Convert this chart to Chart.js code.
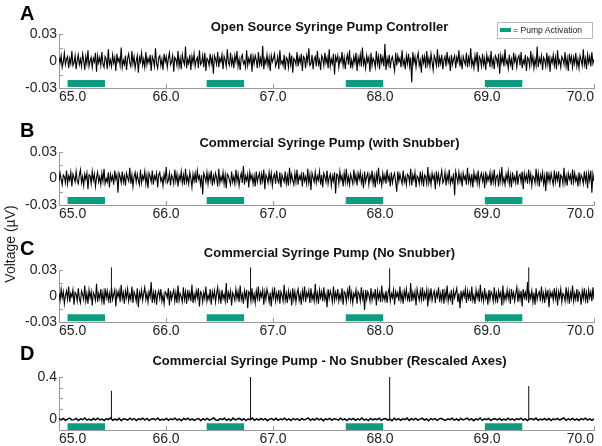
<!DOCTYPE html>
<html lang="en">
<head>
  <meta charset="UTF-8">
  <title>Syringe Pump Noise</title>
  <script src="https://cdn.jsdelivr.net/npm/chart.js"></script>
  <style>
    body {
      margin: 0;
      background: #fff;
      font-family: "Liberation Sans", Arial, sans-serif;
    }
    #page {
      position: relative;
      width: 602px;
      height: 446px;
      overflow: hidden;
    }
    canvas { position: absolute; left: 0; }
    .letter {
      position: absolute;
      left: 20px;
      font-size: 20px;
      line-height: 20px;
      font-weight: bold;
      color: #000;
    }
    .title {
      position: absolute;
      left: 62px;
      width: 535px;
      text-align: center;
      font-size: 13px;
      line-height: 13px;
      font-weight: bold;
      color: #111;
    }
    #ylabel {
      position: absolute;
      left: 10px;
      top: 244px;
      transform: translate(-50%, -50%) rotate(-90deg);
      white-space: nowrap;
      font-size: 14px;
      color: #222;
    }
    #legend {
      position: absolute;
      left: 497px;
      top: 22px;
      width: 94px;
      height: 15px;
      border: 1px solid #bbb;
      font-size: 8.6px;
      line-height: 15px;
      color: #222;
    }
    #legend span {
      display: inline-block;
      width: 11px;
      height: 4px;
      background: #0c9d80;
      margin: 0 2px 0 2px;
      vertical-align: middle;
      position: relative;
      top: -1px;
    }
  </style>
</head>
<body>
<div id="page">
  <canvas id="chartA" width="602" height="112" style="top:0px"></canvas>
  <canvas id="chartB" width="602" height="111" style="top:118px"></canvas>
  <canvas id="chartC" width="602" height="110" style="top:236px"></canvas>
  <canvas id="chartD" width="602" height="111" style="top:343px"></canvas>

  <div class="letter" style="top:2.5px">A</div>
  <div class="letter" style="top:119.5px">B</div>
  <div class="letter" style="top:237.5px">C</div>
  <div class="letter" style="top:342.5px">D</div>

  <div class="title" style="top:20px">Open Source Syringe Pump Controller</div>
  <div class="title" style="top:136px">Commercial Syringe Pump (with Snubber)</div>
  <div class="title" style="top:246px">Commercial Syringe Pump (No Snubber)</div>
  <div class="title" style="top:354px">Commercial Syringe Pump - No Snubber (Rescaled Axes)</div>

  <div id="ylabel">Voltage (µV)</div>
  <div id="legend"><span></span>= Pump Activation</div>
</div>

<script>
  // time window (s)
  const tStart = 65.0;
  const tEnd = 70.0;
  const xTicks = [65, 66, 67, 68, 69, 70];

  // pump activation periods
  const pumpStart = [65.08, 66.38, 67.68, 68.98];
  const pumpEnd   = [65.43, 66.73, 68.03, 69.33];

  // transient spikes of the commercial pump (no snubber)
  const spikeTimes = [65.49, 66.79, 68.09, 69.39];
  const spikeC = [0.033, 0.033, 0.032, 0.033];
  const spikeD = [0.27, 0.40, 0.40, 0.315];

  // recorded voltage (µV), evenly sampled over the window
  const noiseA = [
    0.004,-0.002,0.006,-0.007,-0.001,0.009,-0.004,0.002,0.005,-0.008,0.003,-0.003,0.011,-0.005,-0.002,0.006,-0.009,0.001,0.007,-0.004,
    0.002,-0.006,0.008,0.001,-0.010,0.005,-0.003,0.012,-0.006,0.000,0.004,-0.007,0.003,-0.001,0.009,-0.012,0.006,-0.002,0.004,-0.005,
    0.010,-0.003,-0.007,0.005,0.002,-0.009,0.013,-0.004,0.001,-0.006,0.007,-0.002,0.004,-0.011,0.008,-0.001,0.003,-0.005,0.015,-0.007,
    0.001,-0.004,0.006,-0.010,0.003,0.008,-0.002,-0.006,0.011,-0.003,0.005,-0.008,0.000,0.006,-0.013,0.004,-0.001,0.009,-0.005,0.002,
    -0.007,0.010,-0.004,0.003,-0.002,0.007,-0.011,0.005,0.001,-0.006,0.014,-0.003,-0.008,0.004,0.006,-0.005,0.002,-0.010,0.008,-0.001,
    0.005,-0.007,0.003,0.009,-0.004,-0.001,0.006,-0.012,0.004,0.002,-0.005,0.011,-0.006,0.003,-0.009,0.007,0.000,-0.004,0.016,-0.008,
    0.002,-0.003,0.007,-0.010,0.005,-0.002,0.008,-0.006,0.001,0.004,-0.008,0.012,-0.004,-0.002,0.006,-0.007,0.009,-0.011,0.003,0.001,
    -0.005,0.008,-0.003,0.004,-0.014,0.006,0.002,-0.004,0.010,-0.007,0.003,-0.001,0.007,-0.009,0.005,0.001,-0.006,0.013,-0.002,-0.005,
    0.009,-0.004,0.003,-0.008,0.006,-0.001,0.011,-0.006,0.002,-0.010,0.004,0.007,-0.003,0.000,-0.007,0.012,-0.005,0.003,-0.002,0.008,
    -0.012,0.005,-0.003,0.006,0.001,-0.008,0.010,-0.004,0.003,-0.006,0.017,-0.009,0.002,-0.003,0.007,-0.005,0.004,-0.011,0.006,-0.001,
    0.003,0.008,-0.006,-0.002,0.005,-0.009,0.012,-0.003,0.000,-0.005,0.007,-0.010,0.004,0.002,-0.007,0.009,-0.004,0.006,-0.013,0.003,
    0.001,-0.004,0.010,-0.006,0.004,-0.002,0.008,-0.011,0.005,0.003,-0.008,0.006,-0.001,0.014,-0.005,-0.003,0.007,-0.009,0.002,0.005,
    -0.006,0.011,-0.004,0.001,-0.010,0.006,0.003,-0.005,0.009,-0.002,0.004,-0.008,0.013,-0.006,0.002,-0.003,0.008,-0.015,0.005,0.000,
    0.006,-0.007,0.003,-0.001,0.010,-0.005,0.004,-0.009,0.002,0.007,-0.004,0.012,-0.008,0.001,-0.006,0.005,-0.002,0.009,-0.011,0.004,
    -0.003,0.007,-0.006,0.015,-0.004,0.002,-0.008,0.006,-0.001,0.004,-0.012,0.009,-0.005,0.003,0.000,-0.007,0.011,-0.003,0.005,-0.009,
    0.008,-0.002,0.004,-0.006,0.019,-0.010,0.003,-0.004,0.007,-0.008,0.002,0.005,-0.003,-0.011,0.009,-0.005,0.006,-0.001,0.003,-0.007,
    0.012,-0.004,0.001,-0.009,0.006,-0.003,0.008,-0.006,0.004,-0.024,0.010,-0.002,0.005,-0.007,0.003,0.009,-0.005,0.001,-0.013,0.007,
    -0.002,0.005,-0.008,0.011,-0.004,0.003,-0.006,0.008,-0.001,-0.010,0.006,0.002,-0.005,0.013,-0.007,0.004,-0.003,0.007,-0.009,0.001,
    0.005,-0.006,0.010,-0.002,0.003,-0.011,0.007,-0.004,0.002,0.006,-0.008,0.004,-0.001,0.012,-0.006,0.003,-0.009,0.005,0.000,-0.004,
    0.009,-0.007,0.004,-0.003,0.014,-0.005,0.001,-0.008,0.006,-0.002,0.010,-0.012,0.005,0.002,-0.006,0.008,-0.004,0.003,-0.010,0.007,
    -0.001,0.004,-0.007,0.011,-0.005,0.002,-0.009,0.006,0.003,-0.004,0.008,-0.014,0.006,-0.002,0.005,-0.006,0.013,-0.003,0.001,-0.008,
    0.007,-0.004,0.002,-0.010,0.009,-0.001,0.005,-0.007,0.003,0.006,-0.005,0.010,-0.008,0.001,-0.003,0.007,-0.011,0.004,0.002,-0.006,
    0.011,-0.003,0.005,-0.008,0.002,-0.005,0.016,-0.007,0.003,-0.002,0.006,-0.010,0.004,0.001,-0.006,0.009,-0.004,0.006,-0.012,0.003,
    -0.002,0.007,-0.005,0.004,-0.009,0.012,-0.003,0.001,-0.007,0.005,0.002,-0.004,0.010,-0.006,0.003,-0.011,0.008,-0.001,0.005,-0.007,
    0.004,-0.003,0.009,-0.006,0.002,-0.008,0.006,0.001,-0.005,0.013,-0.004,0.003,-0.009,0.007,-0.002,0.005,-0.006,0.010,-0.003,0.002
  ];

  const noiseB = [
    -0.003,0.006,-0.001,-0.007,0.004,0.002,-0.005,0.009,-0.006,0.003,-0.002,0.007,-0.009,0.005,0.001,-0.004,0.008,-0.003,-0.006,0.004,
    0.010,-0.005,0.002,-0.008,0.005,-0.001,0.006,-0.012,0.004,0.003,-0.006,0.008,-0.002,0.005,-0.009,0.001,0.007,-0.004,0.002,-0.007,
    0.006,-0.003,0.011,-0.006,0.000,-0.004,0.007,-0.010,0.005,-0.002,0.003,-0.007,0.009,-0.001,0.004,-0.016,0.006,0.002,-0.005,0.008,
    -0.004,0.003,-0.008,0.006,0.001,-0.003,0.012,-0.006,0.004,-0.009,0.002,0.007,-0.004,0.005,-0.002,-0.007,0.010,-0.005,0.003,-0.001,
    0.008,-0.006,0.004,-0.011,0.006,0.002,-0.004,0.009,-0.007,0.003,-0.001,0.006,-0.010,0.004,0.007,-0.003,0.001,-0.008,0.005,-0.002,
    0.013,-0.005,-0.002,0.006,-0.008,0.004,0.001,-0.006,0.010,-0.003,0.005,-0.009,0.003,-0.002,0.008,-0.005,0.004,-0.007,0.011,-0.004,
    0.002,-0.006,0.007,0.000,-0.010,0.005,-0.003,0.006,-0.005,0.009,-0.001,0.003,-0.007,0.004,-0.018,0.006,0.002,-0.004,0.007,-0.006,
    0.005,-0.002,0.009,-0.008,0.003,-0.004,0.006,0.001,-0.009,0.011,-0.005,0.002,-0.003,0.007,-0.006,0.004,-0.011,0.005,0.003,-0.002,
    -0.007,0.008,-0.004,0.002,-0.006,0.010,-0.003,0.005,-0.008,0.001,0.006,-0.005,0.014,-0.007,0.003,-0.002,0.005,-0.010,0.007,-0.001,
    0.004,-0.006,0.003,-0.009,0.008,-0.004,0.002,0.006,-0.007,0.005,-0.003,0.010,-0.012,0.004,0.001,-0.005,0.007,-0.003,0.006,-0.008,
    0.002,0.005,-0.006,0.009,-0.002,-0.005,0.007,-0.010,0.004,0.000,-0.004,0.008,-0.006,0.003,-0.008,0.012,-0.003,0.005,-0.002,-0.007,
    0.006,-0.004,0.010,-0.007,0.003,-0.001,0.005,-0.009,0.007,-0.003,0.002,-0.006,0.011,-0.005,0.004,-0.013,0.006,0.001,-0.004,0.007,
    -0.005,0.003,-0.002,0.008,-0.007,0.004,-0.010,0.006,0.002,-0.004,0.009,-0.006,0.001,0.005,-0.008,0.003,-0.003,0.007,-0.017,0.005,
    0.004,-0.006,0.008,-0.002,0.003,-0.009,0.006,-0.004,0.011,-0.005,0.002,-0.007,0.005,0.000,-0.006,0.010,-0.003,0.004,-0.008,0.006,
    -0.001,0.007,-0.005,0.003,-0.011,0.008,-0.004,0.002,0.006,-0.007,0.004,-0.002,0.009,-0.006,0.003,-0.010,0.005,-0.003,0.012,-0.004,
    0.001,-0.008,0.006,-0.003,0.004,-0.006,0.010,-0.002,0.003,-0.009,0.007,-0.005,0.002,0.006,-0.004,-0.015,0.008,-0.003,0.005,-0.001,
    -0.006,0.009,-0.004,0.002,-0.007,0.005,0.003,-0.005,0.011,-0.008,0.004,-0.002,0.007,-0.010,0.003,0.001,-0.006,0.008,-0.004,0.005,
    -0.009,0.004,0.002,-0.006,0.013,-0.005,0.003,-0.007,0.006,-0.001,0.004,-0.012,0.008,-0.003,0.005,-0.006,0.002,0.009,-0.005,-0.002,
    0.007,-0.008,0.004,-0.003,0.010,-0.006,0.001,-0.004,0.006,-0.019,0.008,0.002,-0.005,0.007,-0.003,0.004,-0.009,0.006,-0.001,0.003,
    -0.007,0.012,-0.004,0.003,-0.006,0.005,-0.010,0.007,-0.002,0.004,-0.005,0.009,-0.007,0.002,0.006,-0.003,0.004,-0.011,0.008,-0.004,
    0.003,-0.002,0.007,-0.008,0.005,-0.004,0.010,-0.006,0.002,0.004,-0.009,0.006,-0.003,0.013,-0.005,0.001,-0.007,0.005,-0.002,0.008,
    -0.006,0.004,-0.010,0.007,-0.003,0.002,-0.005,0.009,-0.007,0.003,0.005,-0.004,0.008,-0.012,0.006,-0.002,0.004,-0.006,0.010,-0.003,
    0.005,-0.008,0.003,0.001,-0.005,0.011,-0.004,0.006,-0.009,0.004,-0.002,0.007,-0.006,0.003,-0.014,0.008,-0.003,0.005,-0.004,0.006,
    -0.001,-0.007,0.009,-0.004,0.005,-0.002,0.008,-0.010,0.004,0.002,-0.006,0.012,-0.005,0.003,-0.008,0.006,-0.001,0.004,-0.007,0.010,
    -0.004,0.006,-0.003,0.002,-0.009,0.007,-0.005,0.004,0.001,-0.006,0.008,-0.003,0.005,-0.011,0.006,-0.002,0.009,-0.016,0.005,-0.003
  ];

  const noiseC = [
    0.003,-0.005,0.008,-0.002,0.005,-0.009,0.001,0.006,-0.004,0.011,-0.007,0.003,-0.001,0.007,-0.010,0.004,0.002,-0.006,0.009,-0.003,
    -0.008,0.006,0.002,-0.004,0.012,-0.006,0.003,-0.009,0.007,-0.002,0.005,-0.011,0.004,0.001,-0.005,0.014,-0.007,0.003,-0.003,0.008,
    -0.006,0.004,-0.010,0.009,-0.002,0.006,-0.005,0.003,-0.008,0.010,-0.004,0.002,0.007,-0.012,0.005,-0.001,0.006,-0.007,0.013,-0.003,
    0.004,-0.009,0.006,-0.002,0.008,-0.006,0.002,-0.004,0.011,-0.008,0.005,0.001,-0.006,0.009,-0.013,0.004,-0.002,0.007,-0.005,0.003,
    0.010,-0.004,0.003,-0.007,0.005,-0.001,0.016,-0.008,0.004,-0.005,0.007,-0.010,0.002,0.006,-0.003,0.008,-0.006,0.001,-0.009,0.005,
    0.003,-0.002,0.009,-0.011,0.006,-0.004,0.002,0.007,-0.006,0.004,-0.008,0.012,-0.005,0.003,-0.001,-0.007,0.010,-0.004,0.005,-0.009,
    0.007,-0.003,0.004,-0.006,0.013,-0.008,0.002,-0.005,0.006,-0.002,0.009,-0.012,0.005,0.003,-0.007,0.004,-0.003,0.011,-0.006,0.001,
    -0.004,0.008,-0.010,0.005,-0.002,0.006,-0.007,0.003,0.010,-0.005,0.004,-0.009,0.007,-0.003,0.002,-0.006,0.015,-0.008,0.004,-0.002,
    0.006,-0.011,0.004,0.001,-0.005,0.008,-0.003,0.005,-0.007,0.012,-0.004,0.002,-0.009,0.006,-0.002,0.007,-0.014,0.005,0.003,-0.006,
    0.009,-0.005,0.002,-0.008,0.006,-0.003,0.011,-0.006,0.004,-0.001,0.007,-0.010,0.005,-0.004,0.008,0.002,-0.007,0.004,-0.012,0.006,
    -0.002,0.010,-0.006,0.003,-0.004,0.007,-0.009,0.005,0.001,-0.006,0.013,-0.005,0.003,-0.008,0.006,-0.002,0.004,-0.011,0.009,-0.004,
    0.005,-0.007,0.003,0.008,-0.005,0.002,-0.010,0.006,-0.003,0.011,-0.007,0.004,-0.001,0.006,-0.008,0.009,-0.004,0.002,-0.006,0.014,
    -0.005,0.003,-0.009,0.007,-0.002,0.005,-0.006,0.010,-0.004,0.002,-0.013,0.008,-0.003,0.006,0.001,-0.007,0.011,-0.005,0.004,-0.003,
    0.008,-0.006,0.002,-0.004,0.009,-0.010,0.005,0.003,-0.007,0.006,-0.002,0.012,-0.005,0.004,-0.008,0.003,-0.001,0.007,-0.009,0.005,
    0.002,-0.006,0.010,-0.003,0.004,-0.016,0.007,-0.004,0.005,0.001,-0.006,0.009,-0.005,0.003,-0.002,0.008,-0.011,0.006,-0.003,0.004,
    -0.007,0.012,-0.004,0.002,-0.005,0.006,-0.008,0.004,0.009,-0.006,0.003,-0.002,0.007,-0.010,0.005,-0.001,0.004,-0.006,0.011,-0.005,
    0.003,-0.009,0.006,-0.002,0.008,-0.004,0.002,-0.007,0.015,-0.006,0.004,-0.003,0.005,-0.011,0.008,0.001,-0.005,0.006,-0.004,0.010,
    -0.006,0.004,-0.002,0.007,-0.012,0.005,-0.003,0.009,-0.005,0.002,0.006,-0.008,0.004,-0.001,0.010,-0.007,0.003,-0.005,0.008,-0.009,
    0.005,-0.003,0.012,-0.006,0.002,-0.004,0.007,-0.010,0.006,-0.002,0.004,0.009,-0.007,0.003,-0.014,0.006,-0.004,0.005,-0.001,0.008,
    -0.008,0.006,-0.003,0.004,-0.006,0.011,-0.005,0.001,-0.009,0.007,-0.002,0.005,-0.007,0.013,-0.004,0.003,-0.006,0.009,-0.003,0.002,
    -0.010,0.007,-0.004,0.005,0.002,-0.006,0.010,-0.005,0.003,-0.008,0.006,-0.001,0.004,-0.011,0.012,-0.006,0.002,-0.004,0.007,-0.003,
    0.005,-0.009,0.008,-0.002,0.004,-0.006,0.003,0.010,-0.007,0.005,-0.004,0.006,-0.012,0.008,-0.002,0.004,-0.005,0.016,-0.008,0.003,
    -0.003,0.006,-0.007,0.004,-0.010,0.009,-0.004,0.002,0.005,-0.006,0.011,-0.005,0.003,-0.008,0.006,-0.002,0.007,-0.013,0.005,-0.001,
    0.004,-0.005,0.009,-0.003,0.006,-0.011,0.005,-0.002,0.008,-0.007,0.003,0.001,-0.006,0.010,-0.004,0.006,-0.009,0.004,-0.003,0.012,
    -0.006,0.003,-0.004,0.008,-0.007,0.005,0.002,-0.010,0.006,-0.003,0.009,-0.005,0.004,-0.008,0.007,-0.002,0.005,-0.006,0.010,-0.004
  ];

  const noiseD = [
    0.006,-0.004,0.010,-0.008,0.003,0.012,-0.006,-0.002,0.009,-0.011,0.005,-0.003,0.013,-0.007,0.002,-0.009,0.008,-0.005,0.011,-0.004,
    0.004,-0.010,0.007,-0.002,0.014,-0.008,0.003,-0.006,0.010,-0.012,0.006,0.001,-0.007,0.011,-0.004,0.008,-0.010,0.005,-0.003,0.012,
    -0.006,0.009,-0.011,0.004,0.007,-0.005,0.013,-0.008,0.002,-0.004,0.010,-0.009,0.006,-0.002,0.012,-0.007,0.004,-0.013,0.008,-0.003,
    0.011,-0.006,0.005,-0.009,0.003,0.008,-0.012,0.006,-0.004,0.010,-0.007,0.002,0.013,-0.005,-0.009,0.007,-0.003,0.011,-0.008,0.004,
    -0.010,0.012,-0.005,0.003,0.009,-0.007,0.006,-0.011,0.004,-0.002,0.014,-0.008,0.005,-0.006,0.010,-0.004,0.007,-0.012,0.003,0.008,
    -0.006,0.010,-0.009,0.004,-0.003,0.012,-0.007,0.005,-0.010,0.008,-0.002,0.006,-0.011,0.009,-0.005,0.003,0.013,-0.008,0.004,-0.006,
    0.011,-0.004,0.007,-0.012,0.005,-0.003,0.009,-0.009,0.006,0.002,-0.007,0.012,-0.005,0.004,-0.010,0.008,-0.002,0.010,-0.008,0.005,
    -0.004,0.013,-0.007,0.003,-0.011,0.009,-0.005,0.006,-0.003,0.011,-0.009,0.004,0.008,-0.006,0.002,-0.012,0.010,-0.004,0.007,-0.008,
    0.005,-0.003,0.012,-0.010,0.006,-0.005,0.009,-0.007,0.003,0.011,-0.006,0.004,-0.013,0.008,-0.002,0.007,-0.009,0.005,0.010,-0.004,
    -0.008,0.006,-0.003,0.012,-0.007,0.004,-0.010,0.009,-0.005,0.003,0.011,-0.006,0.007,-0.012,0.005,-0.004,0.013,-0.008,0.006,-0.003,
    0.009,-0.011,0.004,0.007,-0.005,0.010,-0.008,0.003,-0.006,0.012,-0.004,0.006,-0.009,0.008,-0.002,0.011,-0.007,0.005,-0.010,0.004,
    0.007,-0.005,0.012,-0.009,0.003,-0.004,0.010,-0.006,0.008,-0.011,0.005,-0.002,0.009,-0.007,0.004,0.013,-0.008,0.006,-0.005,0.010,
    -0.007,0.004,-0.010,0.008,-0.003,0.011,-0.006,0.005,-0.009,0.006
  ];

  const teal = '#0c9d80';
  const axisGrey = '#9a9a9a';
  const fontFamily = '"Liberation Sans", Arial, sans-serif';

  // evenly spaced samples across the window
  function toPoints(values) {
    const dt = (tEnd - tStart) / (values.length - 1);
    return values.map((v, i) => ({ x: tStart + i * dt, y: v }));
  }

  // vertical strokes for spikes, separated by gaps
  function spikePoints(heights) {
    const pts = [];
    spikeTimes.forEach((t, i) => {
      pts.push({ x: t, y: 0 }, { x: t, y: heights[i] }, { x: t, y: null });
    });
    return pts;
  }

  // horizontal bars for pump activation
  function pumpPoints(level) {
    const pts = [];
    pumpStart.forEach((s, i) => {
      pts.push({ x: s, y: level }, { x: pumpEnd[i], y: level }, { x: pumpEnd[i], y: null });
    });
    return pts;
  }

  // tick marks drawn inside the plot, as in the figure
  const inwardTicks = {
    id: 'inwardTicks',
    beforeDatasetsDraw(chart) {
      const { ctx, chartArea: a, scales: { x, y } } = chart;
      ctx.save();
      ctx.strokeStyle = axisGrey;
      ctx.lineWidth = 1;
      ctx.beginPath();
      y.ticks.forEach(t => {
        const py = Math.round(y.getPixelForValue(t.value)) + 0.5;
        ctx.moveTo(a.left, py);
        ctx.lineTo(a.left + 4, py);
      });
      x.ticks.forEach(t => {
        const px = Math.round(x.getPixelForValue(t.value)) + 0.5;
        ctx.moveTo(px, a.bottom);
        ctx.lineTo(px, a.bottom - 4);
      });
      ctx.stroke();
      ctx.restore();
    }
  };

  function makePanel(id, noise, yMin, yMax, yStep, yLabels, pumpLevel, spikes, lineWidth) {
    const datasets = [
      {
        data: pumpPoints(pumpLevel),
        borderColor: teal,
        borderWidth: 7,
        borderCapStyle: 'butt',
        pointRadius: 0,
        spanGaps: false
      },
      {
        data: toPoints(noise),
        borderColor: '#000',
        borderWidth: lineWidth,
        pointRadius: 0,
        tension: 0
      }
    ];
    if (spikes) {
      datasets.push({
        data: spikePoints(spikes),
        borderColor: '#111',
        borderWidth: 1,
        pointRadius: 0,
        spanGaps: false,
        clip: false
      });
    }

    new Chart(document.getElementById(id), {
      type: 'line',
      data: { datasets: datasets },
      plugins: [inwardTicks],
      options: {
        responsive: false,
        animation: false,
        events: [],
        layout: { padding: { top: 34, right: 8, bottom: 0, left: 0 } },
        plugins: {
          legend: { display: false },
          tooltip: { enabled: false }
        },
        scales: {
          x: {
            type: 'linear',
            min: tStart,
            max: tEnd,
            afterBuildTicks: s => { s.ticks = xTicks.map(v => ({ value: v })); },
            afterFit: s => { s.height = 24; },
            grid: { display: false, drawTicks: false },
            border: { display: true, color: axisGrey, width: 1 },
            ticks: {
              autoSkip: false,
              maxRotation: 0,
              align: 'inner',
              padding: 1,
              color: '#222',
              font: { family: fontFamily, size: 14 },
              callback: v => v.toFixed(1)
            }
          },
          y: {
            min: yMin,
            max: yMax,
            afterFit: s => { s.width = 59; },
            grid: { display: false, drawTicks: false },
            border: { display: true, color: axisGrey, width: 1 },
            ticks: {
              autoSkip: false,
              stepSize: yStep,
              padding: 2,
              color: '#222',
              font: { family: fontFamily, size: 14 },
              callback: v => {
                const hit = yLabels.find(l => Math.abs(l - v) < 1e-9);
                return hit === undefined ? '' : String(hit);
              }
            }
          }
        }
      }
    });
  }

  makePanel('chartA', noiseA, -0.03, 0.03, 0.015, [-0.03, 0, 0.03], -0.025, null, 1.1);
  makePanel('chartB', noiseB, -0.03, 0.03, 0.015, [-0.03, 0, 0.03], -0.025, null, 1.1);
  makePanel('chartC', noiseC, -0.03, 0.03, 0.015, [-0.03, 0, 0.03], -0.025, spikeC, 1.1);
  makePanel('chartD', noiseD, -0.1, 0.4, 0.1, [0, 0.4], -0.07, spikeD, 1.5);
</script>
</body>
</html>
